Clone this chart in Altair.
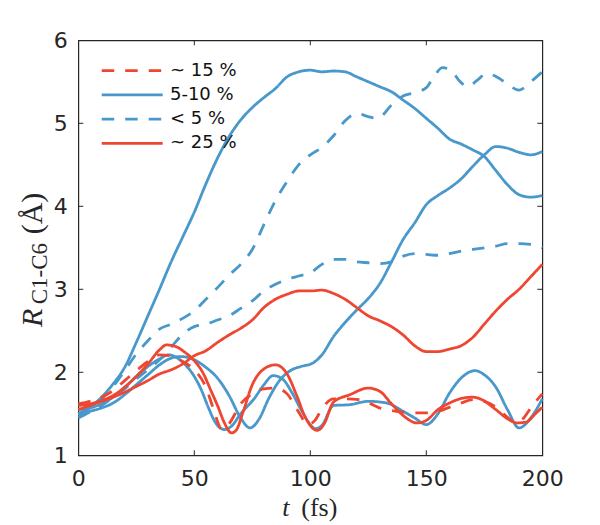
import altair as alt
import pandas as pd

RED = "#ef4631"
BLUE = "#4898cb"
INK = "#262626"

GROUPS = ["~ 15 %", "5-10 %", "< 5 %", "~ 25 %"]
GROUP_COLORS = [RED, BLUE, BLUE, RED]
GROUP_DASHES = [[12.5, 11], [1, 0], [12.5, 11], [1, 0]]

XTICKS = [0, 50, 100, 150, 200]
YTICKS = [1, 2, 3, 4, 5, 6]

T5 = list(range(0, 201, 5))

# blue solid, big rise
B1_T = T5
B1_R = [1.50, 1.58, 1.70, 1.86, 2.06, 2.36, 2.68, 3.00, 3.33, 3.63, 3.93, 4.27, 4.58, 4.84, 5.04,
        5.19, 5.31, 5.42, 5.56, 5.62, 5.64, 5.62, 5.63, 5.62, 5.56, 5.50, 5.44, 5.38, 5.28, 5.18,
        5.06, 4.94, 4.81, 4.75, 4.68, 4.60, 4.43, 4.26, 4.14, 4.11, 4.13]

# blue solid, late rise
B2_T = [0, 5, 10, 15, 20, 25, 30, 35, 40, 44, 50, 55, 60, 65, 70, 74, 78, 82, 87, 92, 96, 101,
        105, 110, 115, 120, 125, 130, 135, 140, 145, 150, 155, 160, 165, 170, 175, 180, 185, 190,
        195, 200]
B2_R = [1.48, 1.53, 1.57, 1.63, 1.73, 1.85, 1.97, 2.09, 2.17, 2.19, 2.15, 2.06, 1.93, 1.72, 1.45,
        1.33, 1.44, 1.68, 1.91, 2.03, 2.07, 2.11, 2.21, 2.43, 2.60, 2.75, 2.89, 3.07, 3.33, 3.60,
        3.80, 4.02, 4.13, 4.22, 4.33, 4.48, 4.62, 4.72, 4.70, 4.65, 4.62, 4.66]

# blue solid, oscillating
B3_T = [0, 5, 10, 15, 20, 25, 30, 35, 39, 45, 50, 53, 56, 59, 63, 66, 70, 76, 80, 84, 88, 92, 96,
        100, 102, 105, 110, 117, 125, 133, 140, 145, 150, 155, 160, 165, 171, 175, 180, 185, 190,
        195, 200]
B3_R = [1.55, 1.57, 1.62, 1.70, 1.82, 1.95, 2.07, 2.16, 2.21, 2.12, 1.95, 1.79, 1.58, 1.40, 1.31,
        1.35, 1.50, 1.69, 1.85, 1.96, 1.92, 1.76, 1.55, 1.37, 1.32, 1.36, 1.60, 1.61, 1.65, 1.63,
        1.53, 1.45, 1.37, 1.50, 1.75, 1.93, 2.02, 1.97, 1.82, 1.55, 1.33, 1.45, 1.68]

# blue dashed, high
D1_T = [0, 5, 10, 15, 20, 25, 30, 35, 40, 45, 50, 55, 60, 65, 70, 75, 80, 85, 90, 95, 100, 105,
        110, 115, 120, 125, 129, 135, 140, 145, 150, 153, 157, 161, 164, 168, 172, 176, 181, 186,
        190, 195, 200]
D1_R = [1.50, 1.57, 1.68, 1.83, 2.02, 2.22, 2.38, 2.52, 2.58, 2.65, 2.74, 2.88, 3.02, 3.17, 3.30,
        3.48, 3.78, 4.07, 4.30, 4.50, 4.62, 4.71, 4.85, 5.03, 5.12, 5.08, 5.06, 5.22, 5.33, 5.37,
        5.43, 5.55, 5.67, 5.63, 5.52, 5.44, 5.52, 5.60, 5.55, 5.45, 5.40, 5.50, 5.62]

# blue dashed, plateau
D2_T = T5
D2_R = [1.45, 1.52, 1.60, 1.70, 1.80, 1.92, 2.03, 2.15, 2.30, 2.46, 2.55, 2.58, 2.63, 2.68, 2.77,
        2.86, 2.98, 3.06, 3.12, 3.16, 3.20, 3.30, 3.36, 3.36, 3.33, 3.32, 3.31, 3.33, 3.40, 3.43,
        3.42, 3.41, 3.43, 3.46, 3.48, 3.50, 3.52, 3.55, 3.55, 3.54, 3.50]

# red solid, plateau then rise
R1_T = T5
R1_R = [1.55, 1.60, 1.65, 1.70, 1.76, 1.83, 1.90, 1.98, 2.03, 2.10, 2.20, 2.26, 2.36, 2.45, 2.53,
        2.63, 2.78, 2.88, 2.94, 2.98, 2.98, 2.99, 2.95, 2.88, 2.78, 2.68, 2.62, 2.55, 2.45, 2.32,
        2.25, 2.25, 2.28, 2.32, 2.42, 2.58, 2.74, 2.88, 3.00, 3.15, 3.30]

# red solid, oscillating
R2_T = [0, 5, 10, 15, 20, 25, 30, 35, 38, 42, 46, 50, 54, 57, 60, 63, 66, 68, 71, 75, 80, 85, 90,
        94, 98, 103, 106, 110, 117, 125, 130, 135, 140, 146, 150, 155, 160, 166, 170, 174, 180,
        185, 189, 193, 197, 200]
R2_R = [1.60, 1.62, 1.66, 1.72, 1.82, 1.95, 2.10, 2.27, 2.33, 2.31, 2.24, 2.14, 1.98, 1.79, 1.60,
        1.39, 1.27, 1.30, 1.52, 1.85, 2.04, 2.09, 1.98, 1.73, 1.45, 1.30, 1.38, 1.64, 1.73, 1.81,
        1.77, 1.62, 1.48, 1.39, 1.42, 1.55, 1.63, 1.69, 1.70, 1.67, 1.55, 1.44, 1.39, 1.40, 1.50,
        1.58]

# red dashed, oscillating
RD_T = [0, 5, 10, 15, 20, 25, 30, 35, 40, 45, 50, 55, 58, 62, 65, 70, 75, 80, 85, 90, 95, 99, 102,
        105, 110, 115, 121, 126, 131, 135, 140, 145, 150, 155, 161, 165, 170, 175, 180, 184, 189,
        192, 195, 200]
RD_R = [1.62, 1.65, 1.70, 1.78, 1.90, 2.02, 2.13, 2.21, 2.20, 2.13, 2.03, 1.82, 1.58, 1.31, 1.38,
        1.62, 1.74, 1.80, 1.81, 1.74, 1.52, 1.37, 1.42, 1.56, 1.68, 1.68, 1.67, 1.62, 1.56, 1.54,
        1.52, 1.51, 1.51, 1.53, 1.59, 1.63, 1.67, 1.65, 1.58, 1.48, 1.39, 1.45, 1.57, 1.74]

SERIES = [
    ("D1", "< 5 %", D1_T, D1_R),
    ("D2", "< 5 %", D2_T, D2_R),
    ("B1", "5-10 %", B1_T, B1_R),
    ("B2", "5-10 %", B2_T, B2_R),
    ("B3", "5-10 %", B3_T, B3_R),
    ("RD", "~ 15 %", RD_T, RD_R),
    ("R1", "~ 25 %", R1_T, R1_R),
    ("R2", "~ 25 %", R2_T, R2_R),
]

rows = []
for sid, grp, ts, rs in SERIES:
    for t, r in zip(ts, rs):
        rows.append({"t": t, "r": r, "sid": sid, "grp": grp})
df = pd.DataFrame(rows)

W, H = 464, 415
xs = alt.Scale(domain=[0, 200], nice=False, zero=False)
ys = alt.Scale(domain=[1, 6], nice=False, zero=False)

AX_X = alt.Axis(values=XTICKS, ticks=False, domain=False, grid=False, labelFontSize=22,
                labelFont="DejaVu Sans", labelColor=INK, labelPadding=13, title=None,
                labelFlush=False)
AX_Y = alt.Axis(values=YTICKS, ticks=False, domain=False, grid=False, labelFontSize=22,
                labelFont="DejaVu Sans", labelColor=INK, labelPadding=11, title=None,
                labelFlush=False)

lines = alt.Chart(df).mark_line(strokeWidth=2.8, interpolate="monotone", strokeCap="butt").encode(
    x=alt.X("t:Q", scale=xs, axis=AX_X),
    y=alt.Y("r:Q", scale=ys, axis=AX_Y),
    color=alt.Color("grp:N", scale=alt.Scale(domain=GROUPS, range=GROUP_COLORS), legend=None),
    strokeDash=alt.StrokeDash("grp:N", scale=alt.Scale(domain=GROUPS, range=GROUP_DASHES),
                              legend=None),
    detail="sid:N",
)

# inward ticks on all four sides
xt = pd.DataFrame({"t": XTICKS[1:-1]})
yt = pd.DataFrame({"r": YTICKS[1:-1]})
TL = 5
tick_b = alt.Chart(xt).mark_rule(color=INK, strokeWidth=1).encode(
    x=alt.X("t:Q", scale=xs, axis=AX_X), y=alt.value(H), y2=alt.value(H - TL))
tick_t = alt.Chart(xt).mark_rule(color=INK, strokeWidth=1).encode(
    x=alt.X("t:Q", scale=xs, axis=AX_X), y=alt.value(0), y2=alt.value(TL))
tick_l = alt.Chart(yt).mark_rule(color=INK, strokeWidth=1).encode(
    y=alt.Y("r:Q", scale=ys, axis=AX_Y), x=alt.value(0), x2=alt.value(TL))
tick_r = alt.Chart(yt).mark_rule(color=INK, strokeWidth=1).encode(
    y=alt.Y("r:Q", scale=ys, axis=AX_Y), x=alt.value(W), x2=alt.value(W - TL))

one = pd.DataFrame({"a": [0]})

# legend (inside, top-left)
LEG_X0, LEG_X1, LEG_TX = 23.4, 84.4, 91.7
LEG_Y0, LEG_DY = 30.4, 24.2
legend_layers = []
for i, g in enumerate(GROUPS):
    yy = LEG_Y0 + i * LEG_DY
    legend_layers.append(
        alt.Chart(one).mark_rule(strokeWidth=2.8, strokeCap="butt",
                                 strokeDash=GROUP_DASHES[i], color=GROUP_COLORS[i]).encode(
            x=alt.value(LEG_X0), x2=alt.value(LEG_X1), y=alt.value(yy))
    )
    legend_layers.append(
        alt.Chart(one).mark_text(text=g, font="DejaVu Sans", fontSize=18, color="#111111",
                                 align="left", baseline="middle").encode(
            x=alt.value(LEG_TX), y=alt.value(yy))
    )

# axis titles
xt_t = alt.Chart(one).mark_text(text="t", font="Liberation Serif", fontStyle="italic",
                                fontSize=26, color=INK, align="left",
                                baseline="alphabetic").encode(x=alt.value(204), y=alt.value(476))
xt_fs = alt.Chart(one).mark_text(text="(fs)", font="Liberation Serif", fontSize=26, color=INK,
                                 align="left", baseline="alphabetic").encode(
    x=alt.value(223), y=alt.value(476))

yt_R = alt.Chart(one).mark_text(text="R", font="Liberation Serif", fontStyle="italic",
                                fontSize=30, color=INK, align="left", baseline="alphabetic",
                                angle=270).encode(x=alt.value(-36.3), y=alt.value(286.7))
yt_sub = alt.Chart(one).mark_text(text="C1-C6", font="Liberation Serif", fontSize=23,
                                  color=INK, align="left", baseline="alphabetic",
                                  angle=270).encode(x=alt.value(-31.5), y=alt.value(264))
yt_unit = alt.Chart(one).mark_text(text="(Å)", font="Liberation Serif", fontSize=30,
                                   color=INK, align="left", baseline="alphabetic",
                                   angle=270).encode(x=alt.value(-36.3), y=alt.value(194))

chart = alt.layer(
    lines, tick_b, tick_t, tick_l, tick_r, xt_t, xt_fs, yt_R, yt_sub, yt_unit, *legend_layers,
).properties(
    width=W, height=H,
    autosize=alt.AutoSizeParams(type="none"),
    padding={"left": 70.3, "top": 32.3, "right": 49, "bottom": 70},
    background="white",
).configure_view(stroke=INK, strokeWidth=1.2)

chart.save("out.html", embed_options={"renderer": "svg", "actions": False})
